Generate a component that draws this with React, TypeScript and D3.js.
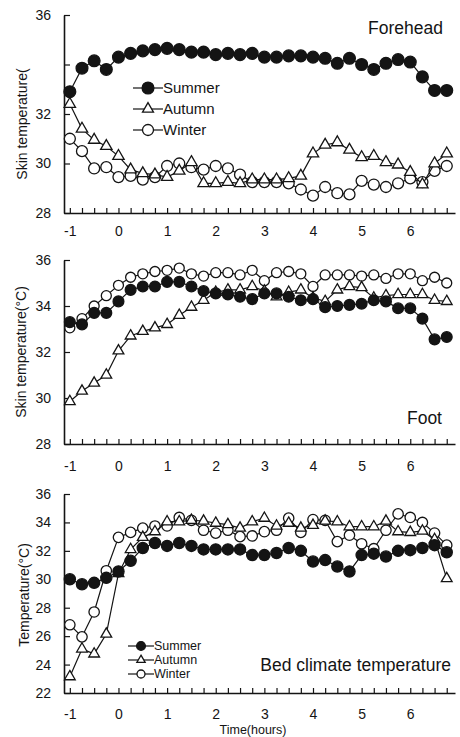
import React, { useEffect, useRef } from "react";
import * as d3 from "d3";

// sampling times (hours)
const hours = [
  -1, -0.75, -0.5, -0.25, 0, 0.25, 0.5, 0.75, 1, 1.25, 1.5, 1.75, 2, 2.25, 2.5,
  2.75, 3, 3.25, 3.5, 3.75, 4, 4.25, 4.5, 4.75, 5, 5.25, 5.5, 5.75, 6, 6.25,
  6.5, 6.75,
];
const hourLabels = [-1, 0, 1, 2, 3, 4, 5, 6];
const seasons = ["Summer", "Autumn", "Winter"];

const foreheadSummer = [
  32.9, 33.85, 34.15, 33.8, 34.3, 34.45, 34.55, 34.6, 34.65, 34.6, 34.5, 34.5,
  34.4, 34.45, 34.4, 34.45, 34.3, 34.3, 34.35, 34.35, 34.3, 34.25, 34.05, 34.25,
  34.0, 33.8, 34.05, 34.2, 34.1, 33.5, 32.95, 32.95,
];
const foreheadAutumn = [
  32.4, 31.4, 30.95, 30.7, 30.3, 29.75, 29.6, 29.55, 29.45, 29.7, 30.05, 29.2,
  29.2, 29.25, 29.2, 29.35, 29.35, 29.35, 29.4, 29.5, 30.4, 30.75, 30.85, 30.55,
  30.25, 30.3, 30.05, 29.95, 29.65, 29.15, 30.0, 30.4,
];
const foreheadWinter = [
  31.0, 30.5, 29.8, 29.85, 29.45, 29.5, 29.35, 29.45, 29.9, 30.0, 29.85, 29.75,
  29.9, 29.8, 29.55, 29.25, 29.25, 29.25, 29.2, 28.95, 28.7, 29.05, 28.8, 28.75,
  29.3, 29.15, 29.05, 29.2, 29.4, 29.25, 29.7, 29.9,
];

const footSummer = [
  33.3, 33.2, 33.7, 33.7, 34.2, 34.7, 34.85, 34.85, 35.05, 35.05, 34.85, 34.65,
  34.55, 34.5, 34.4, 34.3, 34.55, 34.55, 34.4, 34.25, 34.3, 33.95, 34.0, 34.05,
  34.1, 34.25, 34.2, 33.9, 33.9, 33.45, 32.55, 32.65,
];
const footAutumn = [
  29.85, 30.3, 30.65, 31.0, 32.05, 32.7, 32.9, 33.05, 33.2, 33.6, 33.95, 34.25,
  34.6, 34.7, 34.7, 34.85, 34.65, 34.4, 34.6, 34.7, 34.35, 34.2, 34.7, 34.85,
  34.8, 34.35, 34.45, 34.5, 34.5, 34.5, 34.25, 34.2,
];
const footWinter = [
  33.05, 33.45, 34.0, 34.45, 34.9, 35.25, 35.4, 35.5, 35.55, 35.65, 35.4, 35.3,
  35.45, 35.45, 35.35, 35.55, 35.1, 35.45, 35.5, 35.4, 34.85, 35.35, 35.35,
  35.35, 35.3, 35.35, 35.2, 35.4, 35.4, 35.1, 35.25, 35.0,
];

const bedSummer = [
  30.0, 29.65, 29.75, 30.1, 30.55, 31.3, 32.2, 32.55, 32.35, 32.55, 32.35, 32.1,
  32.1, 32.1, 32.1, 31.7, 31.7, 31.85, 32.2, 32.0, 31.25, 31.35, 30.9, 30.55,
  31.7, 31.8, 31.6, 32.0, 32.05, 32.2, 32.4, 31.9,
];
const bedAutumn = [
  23.15, 25.1, 24.75, 26.15, 30.4, 32.1, 32.95, 33.35, 34.05, 34.05, 34.15,
  34.1, 33.95, 33.85, 33.6, 34.05, 34.3, 33.75, 33.95, 33.6, 33.8, 34.1, 34.05,
  33.7, 33.7, 33.7, 34.1, 33.35, 33.3, 33.4, 32.8, 30.05,
];
const bedWinter = [
  26.8, 25.95, 27.7, 30.6, 32.95, 33.3, 33.6, 33.75, 33.75, 34.35, 34.15, 33.45,
  33.25, 33.45, 33.0, 33.05, 33.35, 33.45, 34.3, 33.3, 34.2, 34.15, 32.65, 33.1,
  32.5, 32.15, 33.45, 34.6, 34.35, 34.0, 33.25, 32.4,
];

const FONT = "Liberation Sans, Arial, Helvetica, sans-serif";
const INK = "#141414";

function App() {
  const ref = useRef<SVGSVGElement>(null);

  useEffect(() => {
    const svg = d3.select(ref.current);
    svg.selectAll("*").remove();

    const x = d3.scaleLinear().domain([-1.12, 6.92]).range([64, 455]);
    const quarterTicks = d3.range(-1, 6.8, 0.25);

    const panels = [
      {
        series: [foreheadSummer, foreheadAutumn, foreheadWinter],
        domain: [28, 36],
        range: [213, 15],
        ticks: [28, 30, 32, 34, 36],
        hidden: [34],
        ylabel: "Skin temperature(",
        ylabelX: 22,
        ylabelY: 124,
        title: "Forehead",
        titleX: 443,
        titleY: 34,
        pad: 13,
        r: 5.5,
        tri: 56,
        legend: { x: 133, y: 88, gap: 21, size: 15, len: 30, r: 5.5, tri: 52 },
      },
      {
        series: [footSummer, footAutumn, footWinter],
        domain: [28, 36],
        range: [444, 260],
        ticks: [28, 30, 32, 34, 36],
        hidden: [],
        ylabel: "Skin temperature(°C)",
        ylabelX: 21,
        ylabelY: 352,
        title: "Foot",
        titleX: 442,
        titleY: 424,
        pad: 17,
        r: 5,
        tri: 50,
        legend: null,
      },
      {
        series: [bedSummer, bedAutumn, bedWinter],
        domain: [22, 36],
        range: [693, 494],
        ticks: [22, 24, 26, 28, 30, 32, 34, 36],
        hidden: [],
        ylabel: "Temperature(°C)",
        ylabelX: 24,
        ylabelY: 595,
        title: "Bed climate temperature",
        titleX: 451,
        titleY: 671,
        pad: 16,
        r: 5.2,
        tri: 50,
        legend: { x: 128, y: 646, gap: 14, size: 12.5, len: 26, r: 4, tri: 30 },
      },
    ];

    const drawMarker = (
      g: any,
      kind: number,
      cx: number,
      cy: number,
      r: number,
      tri: number
    ) => {
      if (kind === 1) {
        g.append("path")
          .attr("d", d3.symbol().type(d3.symbolTriangle).size(tri)())
          .attr("transform", `translate(${cx},${cy})`)
          .attr("fill", "#fff")
          .attr("stroke", INK)
          .attr("stroke-width", 1.3);
      } else {
        g.append("circle")
          .attr("cx", cx)
          .attr("cy", cy)
          .attr("r", kind === 0 ? r + 0.4 : r)
          .attr("fill", kind === 0 ? INK : "#fff")
          .attr("stroke", INK)
          .attr("stroke-width", 1.3);
      }
    };

    panels.forEach((p) => {
      const y = d3.scaleLinear().domain(p.domain).range(p.range);
      const g = svg.append("g");
      const axisY = p.range[0];

      // x axis, small ticks every quarter hour pointing inward
      const xAxis = d3
        .axisBottom(x)
        .tickValues(quarterTicks)
        .tickSize(-5)
        .tickSizeOuter(0)
        .tickPadding(p.pad)
        .tickFormat((d: any) =>
          hourLabels.includes(+d) ? String(d) : ""
        );
      const xg = g
        .append("g")
        .attr("transform", `translate(0,${axisY})`)
        .call(xAxis);
      xg.select(".domain").attr("stroke", INK).attr("stroke-width", 1.6);
      xg.selectAll(".tick line").attr("stroke", INK).attr("stroke-width", 1.2);
      xg.selectAll(".tick text")
        .attr("font-family", FONT)
        .attr("font-size", 14)
        .attr("fill", INK);

      // y axis
      const yAxis = d3
        .axisLeft(y)
        .tickValues(p.ticks)
        .tickSize(-6)
        .tickSizeOuter(0)
        .tickPadding(13)
        .tickFormat((d: any) => (p.hidden.includes(+d) ? "" : String(d)));
      const yg = g.append("g").attr("transform", `translate(64,0)`).call(yAxis);
      yg.select(".domain").attr("stroke", INK).attr("stroke-width", 1.6);
      yg.selectAll(".tick line").attr("stroke", INK).attr("stroke-width", 1.2);
      yg.selectAll(".tick text")
        .attr("font-family", FONT)
        .attr("font-size", 14)
        .attr("fill", INK);

      g.append("text")
        .text(p.ylabel)
        .attr("transform", `translate(${p.ylabelX},${p.ylabelY}) rotate(-90)`)
        .attr("text-anchor", "middle")
        .attr("dy", "0.35em")
        .attr("font-family", FONT)
        .attr("font-size", 14)
        .attr("fill", INK);

      g.append("text")
        .text(p.title)
        .attr("x", p.titleX)
        .attr("y", p.titleY)
        .attr("text-anchor", "end")
        .attr("font-family", FONT)
        .attr("font-size", 17.5)
        .attr("fill", INK);

      const line = d3
        .line<number>()
        .x((_, i) => x(hours[i]))
        .y((d) => y(d));

      [2, 1, 0].forEach((k) => {
        const vals = p.series[k];
        g.append("path")
          .attr("d", line(vals))
          .attr("fill", "none")
          .attr("stroke", INK)
          .attr("stroke-width", 1.2);
        vals.forEach((v, i) => drawMarker(g, k, x(hours[i]), y(v), p.r, p.tri));
      });

      if (p.legend) {
        const L = p.legend;
        seasons.forEach((s, k) => {
          const ly = L.y + k * L.gap;
          g.append("line")
            .attr("x1", L.x)
            .attr("x2", L.x + L.len)
            .attr("y1", ly)
            .attr("y2", ly)
            .attr("stroke", INK)
            .attr("stroke-width", 1.2);
          drawMarker(g, k, L.x + L.len / 2, ly, L.r, L.tri);
          g.append("text")
            .text(s)
            .attr("x", L.x + L.len)
            .attr("y", ly)
            .attr("dy", "0.35em")
            .attr("font-family", FONT)
            .attr("font-size", L.size)
            .attr("fill", INK);
        });
      }
    });

    svg
      .append("text")
      .text("Time(hours)")
      .attr("x", 253)
      .attr("y", 734)
      .attr("text-anchor", "middle")
      .attr("font-family", FONT)
      .attr("font-size", 12.5)
      .attr("fill", INK);
  }, []);

  return (
    <div style={{ position: "absolute", left: 0, top: 0 }}>
      <svg ref={ref} width={460} height={737} style={{ display: "block", background: "#fff" }} />
    </div>
  );
}

export default App;
